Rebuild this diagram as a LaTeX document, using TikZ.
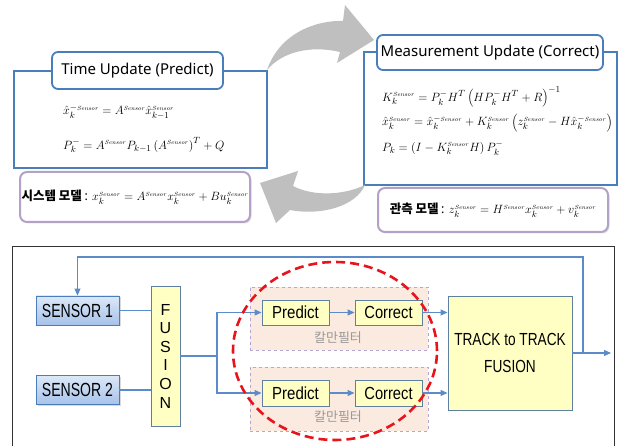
\documentclass[tikz,border=0pt]{standalone}
\usepackage[no-math]{fontspec}
\usepackage{graphicx}
\setmainfont{Noto Sans}
\newfontfamily\krf{Noto Sans CJK KR}
\newfontfamily\arl{Liberation Sans}
\usetikzlibrary{arrows.meta,shadows}
\definecolor{boxblue}{HTML}{4A7EBB}
\definecolor{lilac}{HTML}{B3A2C7}
\definecolor{arrgray}{HTML}{BFBFBF}
\definecolor{linkblue}{HTML}{5B8BC9}
\definecolor{ylw}{HTML}{FFFFC4}
\definecolor{ylwborder}{HTML}{5F7F9F}
\definecolor{peach}{HTML}{FBEADF}
\definecolor{kdash}{HTML}{B4A7D6}
\definecolor{sensTop}{HTML}{DDE8F8}
\definecolor{sensBot}{HTML}{A6C2EA}
\definecolor{kred}{HTML}{E8141C}
\newcommand\SNS{{\scriptscriptstyle\mathit{Sensor}}}
\newcommand\nar[2]{\scalebox{#1}[1]{#2}}
\begin{document}
\begin{tikzpicture}[x=1pt,y=-1pt,
  panel/.style={draw=boxblue,line width=1.6pt,fill=white,inner sep=0pt},
  ttl/.style={draw=boxblue,line width=1.8pt,fill=white,rounded corners=6pt,inner sep=0pt,font=\fontsize{15}{17}\selectfont},
  model/.style={draw=lilac,line width=2pt,fill=white,rounded corners=7pt,inner sep=0pt,drop shadow={opacity=0.25,shadow xshift=1.5pt,shadow yshift=-1.5pt}},
  eq/.style={anchor=west,inner sep=0pt,font=\fontsize{12.6}{15}\selectfont},
  meq/.style={anchor=west,inner sep=0pt,font=\fontsize{12.5}{14}\selectfont},
  sens/.style={draw=boxblue,line width=0.8pt,top color=sensTop,bottom color=sensBot,minimum width=83pt,minimum height=29pt,inner sep=0pt,font=\arl\fontsize{19}{21}\selectfont,drop shadow={opacity=0.3,shadow xshift=1.5pt,shadow yshift=-1.5pt}},
  ybox/.style={draw=ylwborder,line width=0.9pt,fill=ylw,inner sep=0pt,font=\arl\fontsize{17.5}{20}\selectfont},
  kbox/.style={draw=kdash,dashed,line width=0.6pt,fill=peach,inner sep=0pt,minimum width=178pt},
  klabel/.style={text=gray!80,font=\krf\fontsize{13}{15}\selectfont,inner sep=0pt},
  link/.style={draw=linkblue,line width=1.1pt},
  arr/.style={link,-{Triangle[length=7pt,width=6pt]}},
  bigarrow/.style={fill=arrgray,draw=none}
]
\useasboundingbox (0,0) rectangle (619,446);

% ---------- top part ----------
\node[panel,minimum width=253pt,minimum height=97pt] (tu) at (140.5,119.5) {};
\node[ttl,minimum width=171pt,minimum height=37pt] (tt) at (137.5,70.5) {Time Update (Predict)};
\node[eq] (e1) at (63,112) {$\hat{x}_k^{-\SNS} = A^{\SNS}\hat{x}_{k-1}^{\SNS}$};
\node[eq] (e2) at (63,145) {$P_k^{-} = A^{\SNS}P_{k-1}\left(A^{\SNS}\right)^{T} + Q$};

\node[panel,minimum width=253pt,minimum height=133pt] (mu) at (490.5,118.5) {};
\node[ttl,minimum width=226pt,minimum height=35pt] (mt) at (490,52.5) {Measurement Update (Correct)};
\node[meq] (e3) at (382,97) {$K_k^{\SNS} = P_k^{-}H^{T}\left(HP_k^{-}H^{T}+R\right)^{-1}$};
\node[meq] (e4) at (382,123) {$\hat{x}_k^{\SNS} = \hat{x}_k^{-\SNS} + K_k^{\SNS}\left(z_k^{\SNS} - H\hat{x}_k^{-\SNS}\right)$};
\node[meq] (e5) at (382,148) {$P_k = \left(I - K_k^{\SNS}H\right)P_k^{-}$};

\node[model,minimum width=230pt,minimum height=50pt] (sm) at (135,197)
  {{\krf\bfseries\fontsize{12.5}{14}\selectfont 시스템 모델} {\fontsize{12.5}{14}\selectfont : $x_k^{\SNS} = A^{\SNS}x_k^{\SNS} + Bu_k^{\SNS}$}};
\node[model,minimum width=230pt,minimum height=44pt] (om) at (493,210)
  {{\krf\bfseries\fontsize{12.5}{14}\selectfont 관측 모델} {\fontsize{12.5}{14}\selectfont : $z_k^{\SNS} = H^{\SNS}x_k^{\SNS} + v_k^{\SNS}$}};

% gray cycle arrows
\path[bigarrow] (267,70) .. controls (280,32) and (318,20) .. (343,21)
  -- (345,5) -- (374,40) -- (337,63) -- (340,52)
  .. controls (310,45) and (282,52) .. (267,70) -- cycle;
\path[bigarrow] (365,185) .. controls (342,196) and (312,196) .. (293,186)
  -- (298,171) -- (260,183) -- (276,223) -- (290,210)
  .. controls (322,216) and (356,206) .. (365,185) -- cycle;

% ---------- bottom part ----------
\node[draw=black!80,line width=0.9pt,minimum width=602pt,minimum height=206pt,inner sep=0pt] (frame) at (313.5,349) {};

\node[sens] (s1) at (77.5,310.5) {\nar{0.74}{SENSOR 1}};
\node[sens] (s2) at (77.5,390) {\nar{0.74}{SENSOR 2}};
\node[ybox,minimum width=29pt,minimum height=140pt,align=center,font=\arl\fontsize{16}{18.6}\selectfont] (fu) at (165.5,356) {F\\U\\S\\I\\O\\N};

\node[kbox,minimum height=63pt] (k1) at (339,318.5) {};
\node[kbox,minimum height=64pt] (k2) at (339,399) {};
\node[klabel] (kl1) at (338,338) {칼만필터};
\node[klabel] (kl2) at (338,417) {칼만필터};

\node[ybox,minimum width=67pt,minimum height=25pt] (p1) at (295.5,312.5) {\nar{0.86}{Predict}};
\node[ybox,minimum width=67pt,minimum height=25pt] (c1) at (388.5,312.5) {\nar{0.84}{Correct}};
\node[ybox,minimum width=67pt,minimum height=26pt] (p2) at (295.5,393) {\nar{0.86}{Predict}};
\node[ybox,minimum width=67pt,minimum height=26pt] (c2) at (388.5,393) {\nar{0.84}{Correct}};

\node[ybox,minimum width=124pt,minimum height=114pt,align=center,font=\arl\fontsize{17.5}{27}\selectfont] (tr) at (510,353) {\nar{0.78}{TRACK to TRACK}\\\nar{0.78}{FUSION}};

\coordinate (br) at (217,356);
\coordinate (fb) at (583,353);
\coordinate (fbtop) at (583,257);
\coordinate (out) at (611,353);

\draw[link] (s1.east) -- (s1.east -| fu.west);
\draw[link] (s2.east) -- (s2.east -| fu.west);
\draw[link] (fu.east) -- (br);
\draw[arr] (br) |- (p1.west);
\draw[arr] (br) |- (p2.west);
\draw[arr] (p1) -- (c1);
\draw[arr] (p2) -- (c2);
\draw[arr] (c1.east) -- (c1.east -| tr.west);
\draw[arr] (c2.east) -- (c2.east -| tr.west);
\draw[arr] (tr.east) -- (out);
\draw[arr] (fb) -- (fbtop) -| (s1.north);

% red dashed ellipse
\draw[kred,line width=2.6pt,dash pattern=on 9pt off 5pt] (335,351) ellipse [x radius=102pt,y radius=89pt];
\end{tikzpicture}
\end{document}
